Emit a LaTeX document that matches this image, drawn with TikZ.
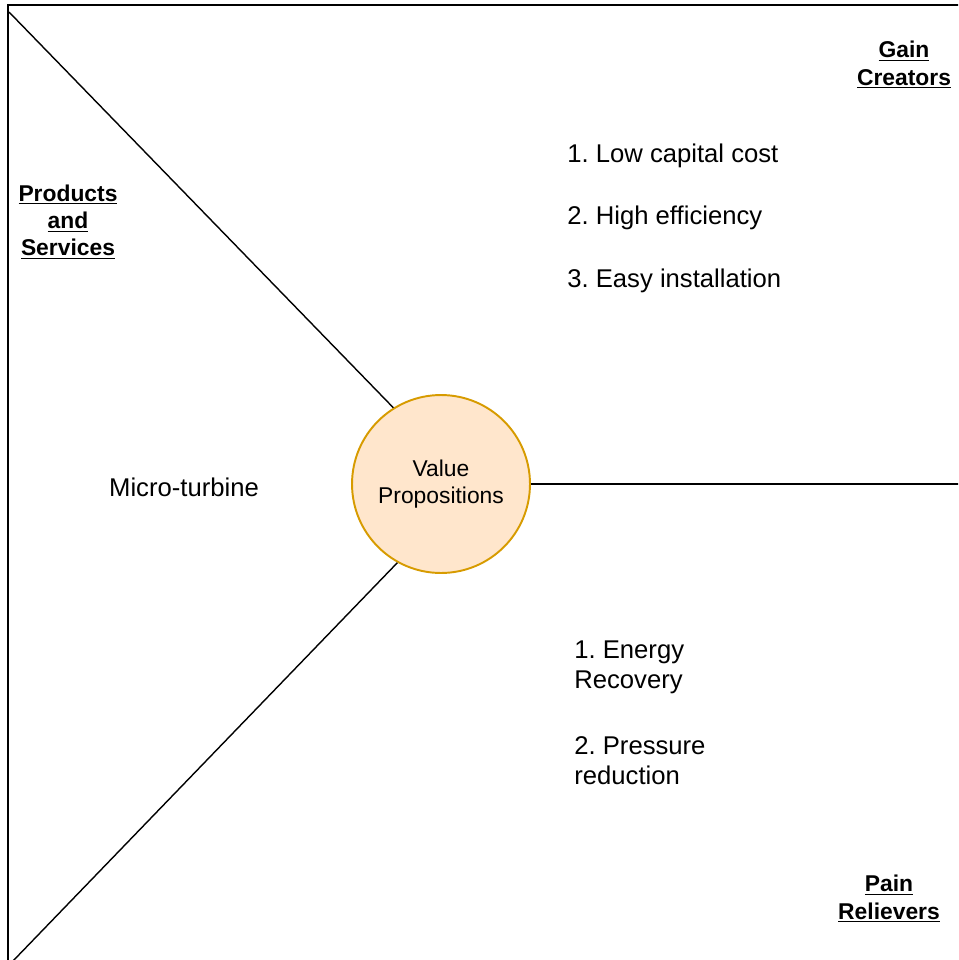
\documentclass[tikz,border=0pt]{standalone}
\usepackage{fontspec}
\setmainfont{Liberation Sans}
\frenchspacing
\definecolor{vpline}{HTML}{D79B00}
\definecolor{vpfill}{HTML}{FFE6CC}
\tikzset{
  propcircle/.style={circle,draw=vpline,fill=vpfill,line width=1.1pt,
    minimum size=3.56cm,align=center,font=\fontsize{13}{15.8}\selectfont},
  heading/.style={align=center,font=\fontsize{13}{15.6}\selectfont\bfseries},
  itemtext/.style={align=left,inner sep=0pt,font=\fontsize{14.6}{17}\selectfont},
  divider/.style={line width=0.8pt}
}
\begin{document}
\begin{tikzpicture}[x=0.02cm,y=-0.02cm]
  \useasboundingbox (0,0) rectangle (958,960);
  \clip (0,0) rectangle (958,960);
  % Canvas frame
  \draw[line width=1.1pt] (8,5) rectangle (970,975);
  % Centre
  \node[propcircle] (vp) at (441,484) {Value\\Propositions};
  \coordinate (topleft) at (9,12);
  \coordinate (botleft) at (12,962);
  \coordinate (right) at (960,484);
  \draw[divider] (topleft) -- (vp.122);
  \draw[divider] (botleft) -- (vp.241);
  \draw[divider] (vp.east) -- (right);
  % Headings
  \node[heading] (gain) at (904,65) {\underline{Gain}\\\underline{Creators}};
  \node[heading] (pain) at (889,899) {\underline{Pain}\\\underline{Relievers}};
  \node[heading] (prod) at (68,222) {\underline{Products}\\\underline{and}\\\underline{Services}};
  % Contents
  \node[itemtext] (turbine) at (184,487) {Micro-turbine};
  \node[itemtext,anchor=west] (gain1) at (567,156) {1. Low capital cost};
  \node[itemtext,anchor=west] (gain2) at (567,218) {2. High efficiency};
  \node[itemtext,anchor=west] (gain3) at (567,281) {3. Easy installation};
  \node[itemtext,anchor=west] (pain1) at (574,667) {1. Energy\\Recovery};
  \node[itemtext,anchor=west] (pain2) at (574,761) {2. Pressure\\reduction};
\end{tikzpicture}
\end{document}
